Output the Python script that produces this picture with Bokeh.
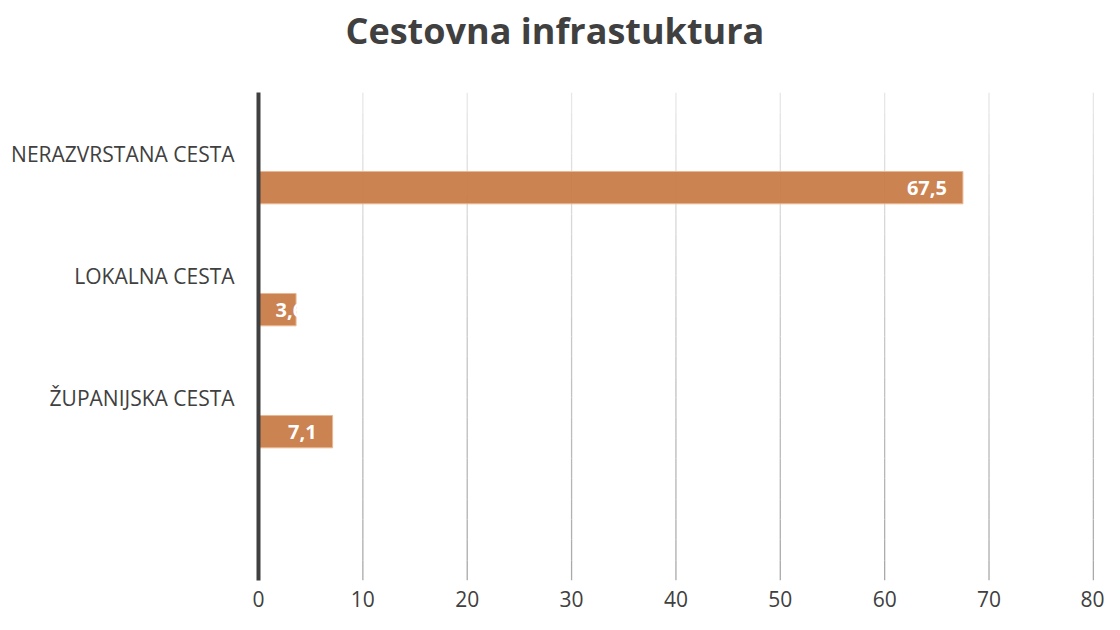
from bokeh.plotting import figure
from bokeh.models import Range1d, FixedTicker, ColumnDataSource, Title
from bokeh.core.properties import value
from bokeh.embed import file_html
from bokeh.resources import INLINE

# ---- data ----
categories = ["NERAZVRSTANA CESTA", "LOKALNA CESTA", "ŽUPANIJSKA CESTA", ""]
values = [67.5, 3.6, 7.1]
value_labels = ["67,5", "3,6", "7,1"]
x_ticks = [0, 10, 20, 30, 40, 50, 60, 70, 80]
title_text = "Cestovna infrastuktura"

FONT = "Open Sans"
TXT = "#404040"
BAR = "#C97B47"

W, H = 1104, 614
ML, MR, MT, MB = 258, 8, 92, 34
x_end = 80.3
frame_w = W - ML - MR
px_per_unit = frame_w / x_end

p = figure(width=W, height=H, output_backend="svg", toolbar_location=None,
           x_range=Range1d(0, x_end), y_range=Range1d(len(categories), 0),
           min_border_left=ML, min_border_right=MR, min_border_top=MT,
           min_border_bottom=MB, outline_line_color=None,
           background_fill_color="white", border_fill_color="white")

p.title.text = title_text
p.title.text_font = FONT
p.title.text_font_size = "36px"
p.title.text_font_style = "bold"
p.title.text_color = TXT
p.title.align = "left"
p.title.offset = 87
p.title.vertical_align = "top"
p.title.standoff = 10

# spacer between title and plot area
p.add_layout(Title(text=" ", text_font_size="22px", standoff=4), "above")

p.xgrid.grid_line_color = None
p.ygrid.grid_line_color = None

# gradient vertical gridlines (light at top, darker at bottom)
n_seg = 24
gx0, gx1, gy0, gy1, gc = [], [], [], [], []
top_rgb = (232, 232, 232)
bot_rgb = (168, 168, 168)
ncat = len(categories)
for t in x_ticks[1:]:
    for k in range(n_seg):
        f = (k + 0.5) / n_seg
        c = tuple(int(round(top_rgb[j] + (bot_rgb[j] - top_rgb[j]) * f)) for j in range(3))
        gx0.append(t); gx1.append(t)
        gy0.append(ncat * k / n_seg); gy1.append(ncat * (k + 1) / n_seg)
        gc.append("#%02x%02x%02x" % c)
p.segment(x0=gx0, y0=gy0, x1=gx1, y1=gy1, line_color=gc, line_width=1.3)

# bars (second series slot of clustered chart)
offset = 0.28
bar_h = 0.265
ys = [i + 0.5 + offset for i in range(len(values))]
src = ColumnDataSource(dict(y=ys, right=values, lab=value_labels))
p.hbar(y="y", left=0, right="right", height=bar_h, source=src,
       fill_color=BAR, fill_alpha=0.94, line_color="#E9B892", line_width=1)

# data labels: inside end, or from axis when bar too short
pad = 16
est_w = [len(s) * 10.5 for s in value_labels]
long_idx = [i for i, v in enumerate(values) if v * px_per_unit - est_w[i] - pad >= pad]
short_idx = [i for i in range(len(values)) if i not in long_idx]
if long_idx:
    p.text(x=[values[i] for i in long_idx], y=[ys[i] for i in long_idx],
           text=[value_labels[i] for i in long_idx], text_align="right",
           text_baseline="middle", x_offset=-pad, text_color="white",
           text_font=value(FONT), text_font_size="20px", text_font_style="bold")
if short_idx:
    p.text(x=[0 for i in short_idx], y=[ys[i] for i in short_idx],
           text=[value_labels[i] for i in short_idx], text_align="left",
           text_baseline="middle", x_offset=pad + 1, text_color="white",
           text_font=value(FONT), text_font_size="20px", text_font_style="bold")

# axes
p.xaxis.ticker = FixedTicker(ticks=x_ticks)
p.xaxis.axis_line_color = None
p.xaxis.major_tick_line_color = None
p.xaxis.minor_tick_line_color = None
p.xaxis.major_label_standoff = 4
p.xaxis.major_label_text_font = FONT
p.xaxis.major_label_text_font_size = "21px"
p.xaxis.major_label_text_color = TXT

p.yaxis.ticker = FixedTicker(ticks=[i + 0.5 for i in range(ncat)])
p.yaxis.major_label_overrides = {i + 0.5: c for i, c in enumerate(categories)}
p.yaxis.axis_line_color = "#404040"
p.yaxis.axis_line_width = 4
p.yaxis.major_tick_line_color = None
p.yaxis.minor_tick_line_color = None
p.yaxis.major_label_standoff = 18
p.yaxis.major_label_text_font = FONT
p.yaxis.major_label_text_font_size = "21px"
p.yaxis.major_label_text_color = TXT

open("out.html", "w").write(file_html(p, INLINE))
